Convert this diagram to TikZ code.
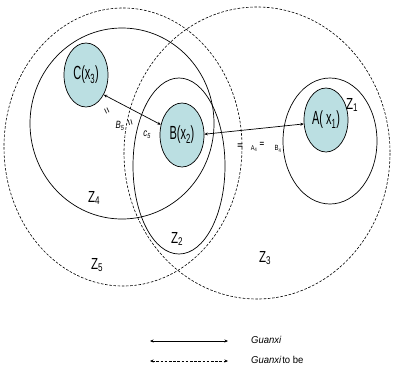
\documentclass[tikz,border=0pt]{standalone}
\usepackage{graphicx}
\usepackage{fontspec}
\setmainfont{Liberation Sans}
\usetikzlibrary{shapes.geometric,arrows.meta}
\newcommand\cnd[2][0.58]{\scalebox{#1}[1]{#2}}
\begin{document}
\begin{tikzpicture}[x=1pt,y=-1pt,
  zsolid/.style={draw=black,line width=0.7pt},
  zdash/.style={draw=black,line width=0.6pt,dash pattern=on 2.6pt off 1.6pt},
  person/.style={ellipse,draw=black,line width=0.7pt,fill=teal0,
    minimum width=44pt,minimum height=64pt,inner sep=0pt,
    font=\fontsize{19}{19}\selectfont},
  zlabel/.style={inner sep=0pt,font=\fontsize{16}{16}\selectfont},
  tiny/.style={inner sep=0pt,font=\fontsize{10.5}{10.5}\selectfont\itshape},
  link/.style={line width=0.7pt,{Stealth[length=3.5pt,width=3pt]}-{Stealth[length=3.5pt,width=3pt]}},
  legtext/.style={inner sep=0pt,anchor=west,font=\fontsize{10}{10}\selectfont}]
\definecolor{teal0}{RGB}{187,223,226}
\useasboundingbox (0,0) rectangle (395,370);
\fill[white] (0,0) rectangle (395,370);
% regions
\draw[zdash] (123,147) ellipse [x radius=119, y radius=139];
\draw[zdash] (257,153) ellipse [x radius=133, y radius=146];
\draw[zsolid] (122,123.5) ellipse [x radius=92, y radius=95.5];
\draw[zsolid] (179,166) ellipse [x radius=46, y radius=88];
\draw[zsolid] (330,141) ellipse [x radius=47, y radius=63];
% persons
\node[person] (C) at (86,75) {\cnd{C(x\textsubscript{3})}};
\node[person] (B) at (182,135) {\cnd{B(x\textsubscript{2})}};
\node[person] (A) at (326,120) {\cnd{A( x\textsubscript{1})}};
% links
\draw[link] (C.-48) -- (B.154);
\draw[link] (B.2) -- (A.190);
% region labels
\node[zlabel] (z1) at (352,105) {\cnd[0.72]{Z\textsubscript{1}}};
\node[zlabel] (z2) at (177,239) {\cnd[0.72]{Z\textsubscript{2}}};
\node[zlabel] (z3) at (265,258) {\cnd[0.72]{Z\textsubscript{3}}};
\node[zlabel] (z4) at (94,198) {\cnd[0.72]{Z\textsubscript{4}}};
\node[zlabel] (z5) at (97,265) {\cnd[0.72]{Z\textsubscript{5}}};
% small labels
\node[tiny,rotate=-65] (e1) at (106,111) {=};
\node[tiny] (b5) at (120,126) {\cnd[0.75]{B\textsubscript{5}}};
\node[tiny,rotate=-75] (e4) at (129.5,123) {=};
\node[tiny] (c5) at (147,135) {\cnd[0.75]{c\textsubscript{5}}};
\node[inner sep=0pt,font=\fontsize{9}{9}\selectfont\bfseries] (e2) at (240,146) {=};
\node[inner sep=0pt,font=\fontsize{7}{7}\selectfont] (a4) at (254,149) {\cnd[0.8]{A\textsubscript{4}}};
\node[inner sep=0pt,font=\fontsize{8}{8}\selectfont\bfseries] (e3) at (262,144) {=};
\node[inner sep=0pt,font=\fontsize{7.5}{7.5}\selectfont] (b4) at (278,149) {\cnd[0.8]{B\textsubscript{4}}};
% legend
\coordinate (l1a) at (150,341);
\coordinate (l1b) at (228,341);
\coordinate (l2a) at (150,361);
\coordinate (l2b) at (228,361);
\draw[link,line width=0.6pt] (l1a) -- (l1b);
\draw[link,line width=0.6pt,dash pattern=on 2.6pt off 1.6pt] (l2a) -- (l2b);
\node[legtext] (t1) at (251,340) {\cnd[0.95]{\itshape Guanxi}};
\node[legtext] (t2) at (251,360) {\cnd[0.95]{{\itshape Guanxi}\kern1pt to be}};
\end{tikzpicture}
\end{document}
